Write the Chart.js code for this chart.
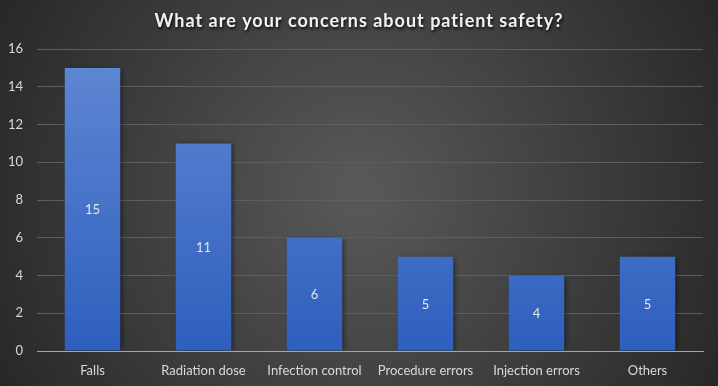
<!DOCTYPE html>
<html>
<head>
<meta charset="utf-8">
<script src="https://cdn.jsdelivr.net/npm/chart.js@4"></script>
<style>
  html, body { margin: 0; padding: 0; background: #333; }
  #wrap { width: 718px; height: 386px; }
</style>
</head>
<body>
<div id="wrap"><canvas id="chart" width="718" height="386"></canvas></div>
<script>
// Chart data
const titleText = 'What are your concerns about patient safety?';
const categories = ['Falls', 'Radiation dose', 'Infection control', 'Procedure errors', 'Injection errors', 'Others'];
const counts = [15, 11, 6, 5, 4, 5];
const yTicks = [0, 2, 4, 6, 8, 10, 12, 14, 16];

const FONT = 'Lato, "Open Sans", sans-serif';

// dark radial background + title with shadow
const backdrop = {
  id: 'backdrop',
  beforeDraw(chart) {
    const {ctx, width, height} = chart;
    const g = ctx.createRadialGradient(width / 2, height / 2, 20, width / 2, height / 2, width * 0.62);
    g.addColorStop(0, '#575757');
    g.addColorStop(1, '#232323');
    ctx.save();
    ctx.fillStyle = g;
    ctx.fillRect(0, 0, width, height);
    ctx.restore();
  },
  afterDraw(chart) {
    const {ctx, width} = chart;
    ctx.save();
    ctx.font = 'bold 18px ' + FONT;
    ctx.letterSpacing = '1px';
    ctx.textAlign = 'center';
    ctx.textBaseline = 'middle';
    ctx.shadowColor = 'rgba(0,0,0,0.8)';
    ctx.shadowOffsetX = 1;
    ctx.shadowOffsetY = 2;
    ctx.shadowBlur = 3;
    ctx.fillStyle = '#f2f2f2';
    ctx.fillText(titleText, width / 2, 21);
    ctx.restore();
  }
};

// bar shadows and centred value labels
const barDeco = {
  id: 'barDeco',
  beforeDatasetsDraw(chart) {
    const ctx = chart.ctx;
    ctx.save();
    ctx.shadowColor = 'rgba(0,0,0,0.55)';
    ctx.shadowOffsetX = 2;
    ctx.shadowOffsetY = 1;
    ctx.shadowBlur = 5;
  },
  afterDatasetsDraw(chart) {
    const ctx = chart.ctx;
    ctx.restore();
    ctx.save();
    ctx.font = '13px ' + FONT;
    ctx.fillStyle = '#e6e6e6';
    ctx.textAlign = 'center';
    ctx.textBaseline = 'middle';
    chart.getDatasetMeta(0).data.forEach((bar, i) => {
      ctx.fillText(String(counts[i]), bar.x, (bar.y + bar.base) / 2 + 1);
    });
    ctx.restore();
  }
};

const ctx = document.getElementById('chart').getContext('2d');

new Chart(ctx, {
  type: 'bar',
  data: {
    labels: categories,
    datasets: [{
      data: counts,
      backgroundColor: (c) => {
        const area = c.chart.chartArea;
        if (!area) return '#4472c4';
        const g = c.chart.ctx.createLinearGradient(0, area.top, 0, area.bottom);
        g.addColorStop(0, '#6088d4');
        g.addColorStop(1, '#2e5fbd');
        return g;
      },
      borderWidth: 0,
      barPercentage: 0.5,
      categoryPercentage: 1
    }]
  },
  options: {
    responsive: false,
    animation: false,
    layout: { padding: { left: 0, right: 15, top: 49, bottom: 0 } },
    plugins: {
      legend: { display: false },
      title: { display: false },
      tooltip: { enabled: false }
    },
    scales: {
      x: {
        grid: { display: false, drawTicks: false },
        border: { display: true, color: '#a6a6a6', width: 1 },
        ticks: { color: '#d9d9d9', font: { family: FONT, size: 13 }, padding: 12, maxRotation: 0, autoSkip: false },
        afterFit(scale) { scale.height = 35; }
      },
      y: {
        min: 0,
        max: 16,
        afterBuildTicks(scale) { scale.ticks = yTicks.map(v => ({ value: v })); },
        grid: { color: '#5e5e5e', drawTicks: false },
        border: { display: false },
        ticks: { color: '#d9d9d9', font: { family: FONT, size: 13 }, padding: 14 },
        afterFit(scale) { scale.width = 37; }
      }
    }
  },
  plugins: [backdrop, barDeco]
});
</script>
</body>
</html>
